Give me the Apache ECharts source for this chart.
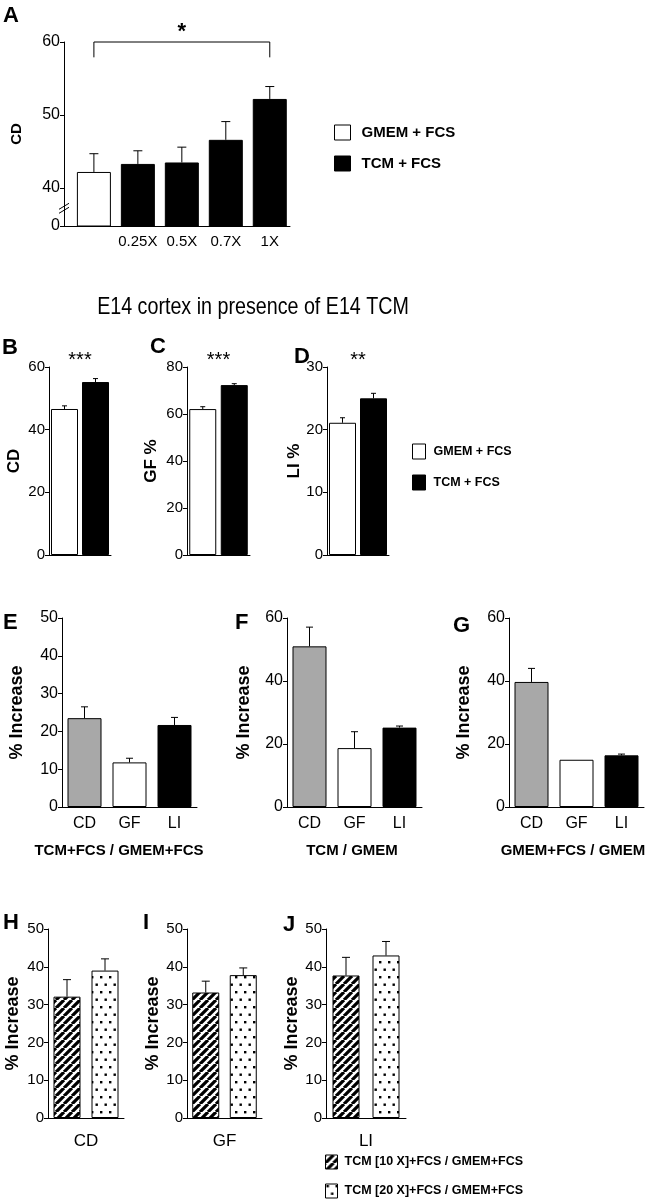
<!DOCTYPE html>
<html><head><meta charset="utf-8">
<script src="https://cdn.jsdelivr.net/npm/echarts@6/dist/echarts.min.js"></script>
<style>html,body{margin:0;padding:0;background:#fff}#c{width:662px;height:1200px}</style>
</head><body><div id="c"></div>
<script>
// ---------------- data ----------------
const A_CATS = ['', '0.25X', '0.5X', '0.7X', '1X'];
const A_GROUPS = ['GMEM + FCS', 'TCM + FCS', 'TCM + FCS', 'TCM + FCS', 'TCM + FCS'];
const A_MEANS = [42.2, 43.3, 43.5, 46.6, 52.2];
const A_ERR_TOP = [44.7, 45.1, 45.6, 49.1, 53.9];
const A_Y_TICK_VALUES = [34.8, 40, 50, 60];
const A_Y_TICK_LABELS = ['0', '40', '50', '60'];

const BD_GROUPS = ['GMEM + FCS', 'TCM + FCS'];
const B_MEANS = [46.6, 55.2], B_ERR_TOP = [47.6, 56.3];
const C_MEANS = [62.1, 72.3], C_ERR_TOP = [63.1, 72.9];
const D_MEANS = [21.1, 25.0], D_ERR_TOP = [21.9, 25.8];
const BD_STARS = ['***', '***', '**'];

const EG_CATS = ['CD', 'GF', 'LI'];
const E_MEANS = [23.5, 11.8, 21.7], E_ERR_TOP = [26.5, 12.9, 23.7];
const F_MEANS = [51.0, 18.7, 25.2], F_ERR_TOP = [57.1, 23.9, 25.7];
const G_MEANS = [39.7, 15.0, 16.4], G_ERR_TOP = [44.0, null, 16.8];
const EG_SUBTITLES = ['TCM+FCS / GMEM+FCS', 'TCM / GMEM', 'GMEM+FCS / GMEM'];

const HJ_GROUPS = ['TCM [10 X]+FCS / GMEM+FCS', 'TCM [20 X]+FCS / GMEM+FCS'];
const HJ_CATS = ['CD', 'GF', 'LI'];
const H_MEANS = [32.1, 39.0], H_ERR_TOP = [36.6, 42.1];
const I_MEANS = [33.2, 37.8], I_ERR_TOP = [36.2, 39.7];
const J_MEANS = [37.7, 43.0], J_ERR_TOP = [42.5, 46.7];

// ---------------- styles ----------------
const FONT = "'Liberation Sans', Arial, Helvetica, sans-serif";
function hasFont(name) {
  const ctx = document.createElement('canvas').getContext('2d');
  const s = 'abcdefghijklmnopqrstuvwxyz0123456789ABCDEFGHIJKLMNOPQRSTUVWXYZ';
  ctx.font = '40px monospace'; const w0 = ctx.measureText(s).width;
  ctx.font = `40px '${name}', monospace`; const w1 = ctx.measureText(s).width;
  return Math.abs(w1 - w0) > 0.5;
}
const NARROW_NAME = ['Liberation Sans Narrow', 'Arial Narrow'].find(hasFont);
const HAS_NARROW = !!NARROW_NAME;
const NARROW = HAS_NARROW ? `'${NARROW_NAME}', ${FONT}` : FONT;
const TITLE_SCALE = HAS_NARROW ? 1 : 0.82;

const GRAY = '#a8a8a8';
const EG_COLORS = [GRAY, '#ffffff', '#000000'];
const GROUP_COLORS = {'GMEM + FCS': '#ffffff', 'TCM + FCS': '#000000'};

function stripeCanvas() {
  const c = document.createElement('canvas'); c.width = 8; c.height = 8;
  const x = c.getContext('2d');
  x.fillStyle = '#fff'; x.fillRect(0, 0, 8, 8);
  x.strokeStyle = '#000'; x.lineWidth = 3.2; x.beginPath();
  for (const k of [-8, 0, 8]) { x.moveTo(k, 8); x.lineTo(k + 8, 0); }
  x.stroke();
  return c;
}
function dotCanvas() {
  const c = document.createElement('canvas'); c.width = 9; c.height = 15;
  const x = c.getContext('2d');
  x.fillStyle = '#fff'; x.fillRect(0, 0, 9, 15);
  x.fillStyle = '#000';
  x.fillRect(1, 1, 2.4, 2.4); x.fillRect(5.5, 8.5, 2.4, 2.4);
  return c;
}
const STRIPES = {image: stripeCanvas(), repeat: 'repeat'};
const DOTS = {image: dotCanvas(), repeat: 'repeat'};
const HJ_FILLS = [STRIPES, DOTS];

const AX = {color: '#000', width: 1};

const grids = [
  {left: 64, top: 42, width: 226, height: 184},   // A
  {left: 49, top: 367, width: 62, height: 188},   // B
  {left: 187, top: 367, width: 63, height: 188},  // C
  {left: 327, top: 367, width: 62, height: 188},  // D
  {left: 62, top: 618, width: 135, height: 189},  // E
  {left: 287, top: 618, width: 135, height: 189}, // F
  {left: 509, top: 618, width: 135, height: 189}, // G
  {left: 48, top: 929, width: 76, height: 189},   // H
  {left: 187, top: 929, width: 75, height: 189},  // I
  {left: 326, top: 929, width: 80, height: 189}   // J
].map(g => Object.assign({outerBoundsMode: 'none', containLabel: false}, g));

function yAxis(gi, min, max, interval, name, nameGap, lblFont, lblSize, nameSize, extra) {
  const o = {
    type: 'value', gridIndex: gi, min, max, interval,
    splitLine: {show: false},
    axisLine: {show: true, onZero: false, lineStyle: AX},
    axisTick: {show: true, length: 4, lineStyle: AX},
    axisLabel: {color: '#000', margin: 4, fontFamily: lblFont, fontSize: lblSize},
    name, nameLocation: 'middle', nameRotate: 90, nameGap,
    nameTextStyle: {color: '#000', fontFamily: FONT, fontWeight: 'bold', fontSize: nameSize}
  };
  if (extra) { o.axisLabel = Object.assign(o.axisLabel, extra.axisLabel || {}); o.axisTick = Object.assign(o.axisTick, extra.axisTick || {}); }
  return o;
}
function catAxis(gi, data, showLabels, lblFont, lblSize, name, nameGap) {
  return {
    type: 'category', gridIndex: gi, data,
    axisLine: {show: true, onZero: false, lineStyle: AX},
    axisTick: {show: false},
    axisLabel: {show: showLabels, color: '#000', margin: 9, fontFamily: lblFont, fontSize: lblSize},
    splitLine: {show: false},
    name: name || '', nameLocation: 'middle', nameGap: nameGap || 0,
    nameTextStyle: {color: '#000', fontFamily: NARROW, fontSize: HAS_NARROW ? 18 : 17}
  };
}
function errSeries(idx, xs, tops, errs, cap) {
  const data = [];
  xs.forEach((x, i) => { if (errs[i] != null) data.push([x, tops[i], errs[i]]); });
  return {
    type: 'custom', xAxisIndex: idx, yAxisIndex: idx, data, z: 5, silent: true,
    encode: {x: 0, y: [1, 2]},
    renderItem: function (params, api) {
      const p0 = api.coord([api.value(0), api.value(1)]);
      const p1 = api.coord([api.value(0), api.value(2)]);
      const h = cap / 2;
      return {type: 'group', children: [
        {type: 'line', shape: {x1: p0[0], y1: p0[1], x2: p1[0], y2: p1[1]}, style: {stroke: '#000', lineWidth: 1}},
        {type: 'line', shape: {x1: p1[0] - h, y1: p1[1], x2: p1[0] + h, y2: p1[1]}, style: {stroke: '#000', lineWidth: 1}}
      ]};
    }
  };
}

const xAxes = [], yAxes = [], series = [];

// ---- A ----
xAxes.push({
  type: 'value', gridIndex: 0, min: -0.68, max: 4.46,
  axisLine: {show: true, onZero: false, lineStyle: AX},
  axisTick: {show: false}, splitLine: {show: false},
  axisLabel: {color: '#000', margin: 8, fontFamily: FONT, fontSize: 15,
    customValues: A_CATS.map((c, i) => i).filter(i => A_CATS[i] !== ''),
    formatter: v => A_CATS[Math.round(v)]}
});
yAxes.push(yAxis(0, A_Y_TICK_VALUES[0], 60, null, 'CD', 40, FONT, 16, 15, {
  axisLabel: {customValues: A_Y_TICK_VALUES, formatter: v => A_Y_TICK_LABELS[A_Y_TICK_VALUES.indexOf(v)]},
  axisTick: {customValues: A_Y_TICK_VALUES}
}));
['GMEM + FCS', 'TCM + FCS'].forEach(gname => {
  series.push({
    type: 'bar', name: gname, xAxisIndex: 0, yAxisIndex: 0, barWidth: 34, barGap: '-100%',
    data: A_MEANS.map((v, i) => [i, v]).filter((d, i) => A_GROUPS[i] === gname),
    itemStyle: {color: GROUP_COLORS[gname], borderColor: '#000', borderWidth: 1}
  });
});
series.push(errSeries(0, A_MEANS.map((v, i) => i), A_MEANS, A_ERR_TOP, 9));

// ---- B, C, D ----
const BD = [
  {means: B_MEANS, errs: B_ERR_TOP, max: 60, interval: 20, name: 'CD', gap: 26},
  {means: C_MEANS, errs: C_ERR_TOP, max: 80, interval: 20, name: 'GF %', gap: 27},
  {means: D_MEANS, errs: D_ERR_TOP, max: 30, interval: 10, name: 'LI %', gap: 24}
];
BD.forEach((p, k) => {
  const gi = 1 + k;
  xAxes.push(catAxis(gi, BD_GROUPS, false, NARROW, 14));
  yAxes.push(yAxis(gi, 0, p.max, p.interval, p.name, p.gap, NARROW, HAS_NARROW ? 16 : 15, 17));
  BD_GROUPS.forEach((gname, j) => {
    series.push({
      type: 'bar', name: gname, xAxisIndex: gi, yAxisIndex: gi, barWidth: 27, barGap: '-100%',
      data: p.means.map((v, i) => i === j ? v : '-'),
      itemStyle: {color: GROUP_COLORS[gname], borderColor: '#000', borderWidth: 1}
    });
  });
  series.push(errSeries(gi, [0, 1], p.means, p.errs, 5));
});

// ---- E, F, G ----
const EG = [
  {means: E_MEANS, errs: E_ERR_TOP, max: 50, interval: 10, gap: 36},
  {means: F_MEANS, errs: F_ERR_TOP, max: 60, interval: 20, gap: 34},
  {means: G_MEANS, errs: G_ERR_TOP, max: 60, interval: 20, gap: 36}
];
EG.forEach((p, k) => {
  const gi = 4 + k;
  xAxes.push(catAxis(gi, EG_CATS, true, FONT, 16));
  yAxes.push(yAxis(gi, 0, p.max, p.interval, '% Increase', p.gap, FONT, 16, 18));
  series.push({
    type: 'bar', name: 'panel' + gi, xAxisIndex: gi, yAxisIndex: gi, barWidth: 34,
    data: p.means.map((v, i) => ({value: v, itemStyle: {color: EG_COLORS[i]}})),
    itemStyle: {borderColor: '#000', borderWidth: 1}
  });
  series.push(errSeries(gi, [0, 1, 2], p.means, p.errs, 7));
});

// ---- H, I, J ----
const HJ = [
  {means: H_MEANS, errs: H_ERR_TOP, gap: 26},
  {means: I_MEANS, errs: I_ERR_TOP, gap: 25},
  {means: J_MEANS, errs: J_ERR_TOP, gap: 25}
];
HJ.forEach((p, k) => {
  const gi = 7 + k;
  xAxes.push(catAxis(gi, HJ_GROUPS, false, NARROW, 14, HJ_CATS[k], 15));
  yAxes.push(yAxis(gi, 0, 50, 10, '% Increase', p.gap, NARROW, HAS_NARROW ? 16 : 15, 18));
  HJ_GROUPS.forEach((gname, j) => {
    series.push({
      type: 'bar', name: gname, xAxisIndex: gi, yAxisIndex: gi, barWidth: 27, barGap: '-100%',
      data: p.means.map((v, i) => i === j ? v : '-'),
      itemStyle: {color: HJ_FILLS[j], borderColor: '#000', borderWidth: 1}
    });
  });
  series.push(errSeries(gi, [0, 1], p.means, p.errs, 8));
});

const legendBase = {orient: 'vertical', icon: 'rect', selectedMode: false, padding: 0,
  itemStyle: {borderColor: '#000', borderWidth: 1}};
const legends = [
  Object.assign({}, legendBase, {data: ['GMEM + FCS', 'TCM + FCS'], left: 334, top: 123, itemWidth: 16, itemHeight: 15, itemGap: 12,
    textStyle: {color: '#000', fontFamily: FONT, fontWeight: 'bold', fontSize: 15, lineHeight: 16, padding: [3, 0, 0, 6]}}),
  Object.assign({}, legendBase, {data: ['GMEM + FCS', 'TCM + FCS'], left: 412, top: 442, itemWidth: 13, itemHeight: 15, itemGap: 12,
    textStyle: {color: '#000', fontFamily: NARROW, fontWeight: 'bold', fontSize: HAS_NARROW ? 15 : 12.5, lineHeight: 16, padding: [3, 0, 0, 3]}}),
  Object.assign({}, legendBase, {data: HJ_GROUPS, left: 325, top: 1154, itemWidth: 12, itemHeight: 14, itemGap: 13, height: 46,
    textStyle: {color: '#000', fontFamily: NARROW, fontWeight: 'bold', fontSize: HAS_NARROW ? 15 : 12.5, lineHeight: 14, padding: [2, 0, 0, 2]}})
];

const chart = echarts.init(document.getElementById('c'), null, {renderer: 'canvas'});
chart.setOption({
  animation: false, backgroundColor: '#fff',
  grid: grids, xAxis: xAxes, yAxis: yAxes, series, legend: legends
});

// ---------------- annotations ----------------
function txt(text, x, y, font, align, scaleX) {
  return {type: 'text', silent: true, z: 10, x, y, scaleX: scaleX || 1,
    style: {text, x: 0, y: 0, font, fill: '#000', align: align || 'left', verticalAlign: 'middle'}};
}
const gfx = [];
const LETTERS = [['A', 3, 16], ['B', 2, 348], ['C', 150, 347], ['D', 294, 357], ['E', 3, 623], ['F', 235, 623], ['G', 453, 626], ['H', 3, 923], ['I', 143, 923], ['J', 283, 925]];
LETTERS.forEach(l => gfx.push(txt(l[0], l[1], l[2], `bold 22px ${FONT}`)));
gfx.push(txt('E14 cortex in presence of E14 TCM', 253, 307, `24px ${NARROW}`, 'center', TITLE_SCALE));
[119, 352, 573].forEach((x, k) => gfx.push(txt(EG_SUBTITLES[k], x, 851, `bold 15px ${FONT}`, 'center')));

// bracket & star on A
const pa = chart.convertToPixel({xAxisIndex: 0, yAxisIndex: 0}, [0, 60]);
const pb = chart.convertToPixel({xAxisIndex: 0, yAxisIndex: 0}, [4, 60]);
const pLow = chart.convertToPixel({xAxisIndex: 0, yAxisIndex: 0}, [0, 57.9]);
gfx.push({type: 'polyline', silent: true, shape: {points: [[pa[0], pLow[1]], [pa[0], pa[1]], [pb[0], pb[1]], [pb[0], pLow[1]]]}, style: {stroke: '#000', lineWidth: 1, fill: null}});
gfx.push(txt('*', (pa[0] + pb[0]) / 2, 32, `bold 22px ${FONT}`, 'center'));
// axis break marks on A
const pBreak = chart.convertToPixel({xAxisIndex: 0, yAxisIndex: 0}, [-0.68, 37.5]);
[0, 4].forEach(d => gfx.push({type: 'line', silent: true, z: 10,
  shape: {x1: pBreak[0] - 5, y1: pBreak[1] + 3 + d, x2: pBreak[0] + 5, y2: pBreak[1] - 3 + d}, style: {stroke: '#000', lineWidth: 1}}));
// stars on B-D
BD.forEach((p, k) => {
  const gi = 1 + k;
  const p0 = chart.convertToPixel({xAxisIndex: gi, yAxisIndex: gi}, [0, p.max]);
  const p1 = chart.convertToPixel({xAxisIndex: gi, yAxisIndex: gi}, [1, p.max]);
  gfx.push(txt(BD_STARS[k], (p0[0] + p1[0]) / 2, 360, `20px ${FONT}`, 'center'));
});
chart.setOption({graphic: gfx});
</script></body></html>
